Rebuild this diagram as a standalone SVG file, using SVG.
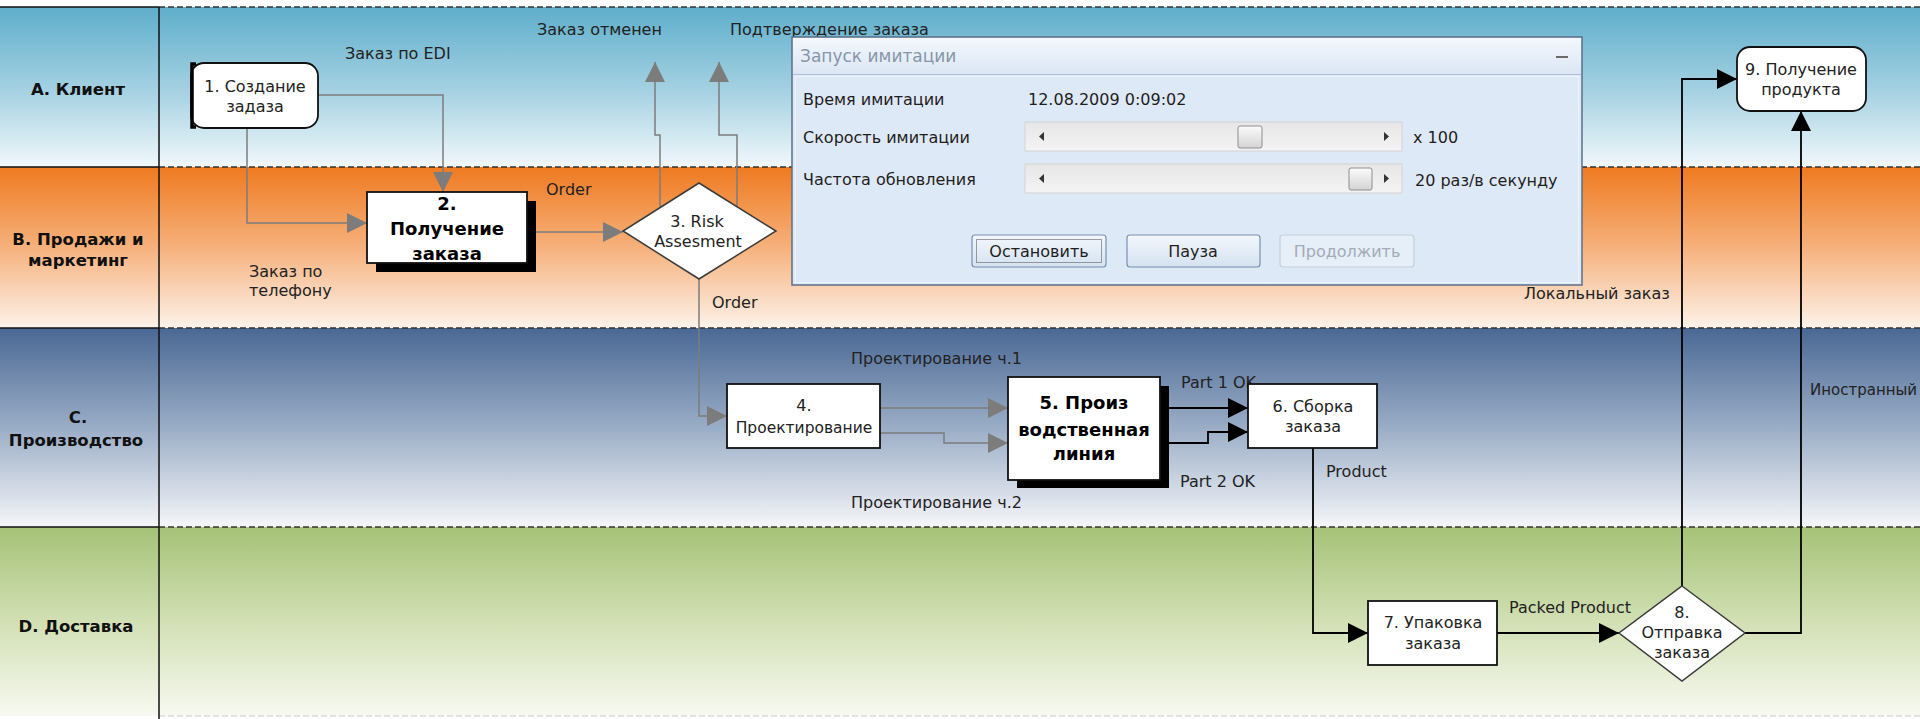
<svg xmlns="http://www.w3.org/2000/svg" width="1920" height="719" viewBox="0 0 1920 719">
  <defs>
    <linearGradient id="laneA" x1="0" y1="0" x2="0" y2="1">
      <stop offset="0" stop-color="#5eaecb"/>
      <stop offset="0.55" stop-color="#a9d3e3"/>
      <stop offset="1" stop-color="#f1f8fb"/>
    </linearGradient>
    <linearGradient id="laneB" x1="0" y1="0" x2="0" y2="1">
      <stop offset="0" stop-color="#ef7a20"/>
      <stop offset="0.5" stop-color="#f6b17c"/>
      <stop offset="1" stop-color="#fdf2ea"/>
    </linearGradient>
    <linearGradient id="laneC" x1="0" y1="0" x2="0" y2="1">
      <stop offset="0" stop-color="#4a6894"/>
      <stop offset="0.5" stop-color="#9aadc6"/>
      <stop offset="1" stop-color="#f5f6f9"/>
    </linearGradient>
    <linearGradient id="laneD" x1="0" y1="0" x2="0" y2="1">
      <stop offset="0" stop-color="#a5c277"/>
      <stop offset="0.5" stop-color="#d2e0b4"/>
      <stop offset="1" stop-color="#f7f9f1"/>
    </linearGradient>
    <linearGradient id="titleGrad" x1="0" y1="0" x2="0" y2="1">
      <stop offset="0" stop-color="#f4f8fd"/>
      <stop offset="1" stop-color="#dbe6f4"/>
    </linearGradient>
    <linearGradient id="trackGrad" x1="0" y1="0" x2="0" y2="1">
      <stop offset="0" stop-color="#e6e6e6"/>
      <stop offset="1" stop-color="#f4f4f4"/>
    </linearGradient>
    <linearGradient id="thumbGrad" x1="0" y1="0" x2="0" y2="1">
      <stop offset="0" stop-color="#fbfbfb"/>
      <stop offset="1" stop-color="#d4d4d4"/>
    </linearGradient>
    <linearGradient id="btnGrad" x1="0" y1="0" x2="0" y2="1">
      <stop offset="0" stop-color="#f3f7fc"/>
      <stop offset="1" stop-color="#d5e2f1"/>
    </linearGradient>
    <marker id="arrGray" viewBox="0 0 20 20" refX="20" refY="10" markerWidth="20" markerHeight="20" markerUnits="userSpaceOnUse" orient="auto">
      <path d="M0,0 L20,10 L0,20 Z" fill="#7c7c7c"/>
    </marker>
    <marker id="arrBlack" viewBox="0 0 20 20" refX="20" refY="10" markerWidth="20" markerHeight="20" markerUnits="userSpaceOnUse" orient="auto">
      <path d="M0,0 L20,10 L0,20 Z" fill="#000"/>
    </marker>
  </defs>
  <style>
    text { font-family: "DejaVu Sans", "Liberation Sans", sans-serif; font-size: 16px; fill: #222; }
    .hdr { font-weight: bold; font-size: 16.5px; text-anchor: middle; fill: #111; }
    .big { font-weight: bold; font-size: 18px; text-anchor: middle; fill: #000; }
    .mid { text-anchor: middle; }
    .solid { stroke: #111; stroke-width: 1.5; fill: none; }
    .dash { stroke: #333; stroke-width: 1.3; stroke-dasharray: 6 3; fill: none; }
    .box { fill: #fff; stroke: #111; stroke-width: 1.8; }
    .shadow { fill: #000; }
    .gray { stroke: #7c7c7c; stroke-width: 1.5; fill: none; marker-end: url(#arrGray); }
    .black { stroke: #000; stroke-width: 1.8; fill: none; marker-end: url(#arrBlack); }
    .dlg { font-size: 16px; fill: #1e1e1e; }
    .btn { fill: url(#btnGrad); stroke: #7990ad; stroke-width: 1.2; }
  </style>

  <rect x="0" y="0" width="1920" height="719" fill="#fff"/>

  <!-- swimlanes -->
  <g id="lanes">
    <rect x="0" y="7" width="1920" height="160" fill="url(#laneA)"/>
    <rect x="0" y="167" width="1920" height="161" fill="url(#laneB)"/>
    <rect x="0" y="328" width="1920" height="199" fill="url(#laneC)"/>
    <rect x="0" y="527" width="1920" height="189" fill="url(#laneD)"/>
    <path class="solid" d="M0,7 H159 M0,167 H159 M0,328 H159 M0,527 H159"/>
    <path class="dash" d="M159,7 H1920 M159,167 H1920 M159,328 H1920 M159,527 H1920"/>
    <path d="M159,716 H1920" stroke="#c9cfc0" stroke-width="1.2" stroke-dasharray="6 3"/>
    <path class="solid" d="M159,7 V719"/>
    <text class="hdr" x="78" y="95">А. Клиент</text>
    <text class="hdr" x="78" y="245">В. Продажи и</text>
    <text class="hdr" x="78" y="266">маркетинг</text>
    <text class="hdr" x="78" y="423">С.</text>
    <text class="hdr" x="76" y="446">Производство</text>
    <text class="hdr" x="76" y="632">D. Доставка</text>
  </g>

  <!-- flow connectors -->
  <g id="connectors">
    <path class="gray" d="M318,95 H443 V192"/>
    <path class="gray" d="M247,128 V223 H367"/>
    <path class="gray" d="M536,232 H623"/>
    <path class="gray" d="M660,207 V135 H655 V62"/>
    <path class="gray" d="M737,207 V135 H719 V62"/>
    <path class="gray" d="M699,279 V416 H727"/>
    <path class="gray" d="M880,408 H1008"/>
    <path class="gray" d="M880,433 H944 V443 H1008"/>
    <path class="black" d="M1169,408 H1248"/>
    <path class="black" d="M1169,443 H1208 V432 H1248"/>
    <path class="black" d="M1313,448 V633 H1368"/>
    <path class="black" d="M1497,633 H1619"/>
    <path class="black" d="M1682,586 V79 H1737"/>
    <path class="black" d="M1745,633 H1801 V111"/>
  </g>

  <!-- connector labels -->
  <g id="labels">
    <text x="345" y="59">Заказ по EDI</text>
    <text x="537" y="35">Заказ отменен</text>
    <text x="730" y="35">Подтверждение заказа</text>
    <text x="546" y="195">Order</text>
    <text x="249" y="277">Заказ по</text>
    <text x="249" y="296">телефону</text>
    <text x="712" y="308">Order</text>
    <text x="1524" y="299">Локальный заказ</text>
    <text x="851" y="364">Проектирование ч.1</text>
    <text x="851" y="508">Проектирование ч.2</text>
    <text x="1181" y="388">Part 1 OK</text>
    <text x="1180" y="487">Part 2 OK</text>
    <text x="1326" y="477">Product</text>
    <text x="1509" y="613">Packed Product</text>
    <text x="1810" y="395" style="font-size:15px">Иностранный</text>
  </g>

  <!-- process nodes -->
  <g id="node1">
    <rect class="box" x="191" y="63" width="127" height="65" rx="13"/>
    <path d="M196,64 H192 V127 H196" stroke="#000" stroke-width="3.5" fill="none"/>
    <text class="mid" x="255" y="92">1. Создание</text>
    <text class="mid" x="255" y="112">задаза</text>
  </g>
  <g id="node2">
    <rect class="shadow" x="376" y="201" width="160" height="71"/>
    <rect class="box" x="367" y="192" width="160" height="71"/>
    <text class="big" x="447" y="210">2.</text>
    <text class="big" x="447" y="235">Получение</text>
    <text class="big" x="447" y="260">заказа</text>
  </g>
  <g id="node3">
    <path d="M699,183 L776,231 L699,279 L623,231 Z" fill="#fff" stroke="#3a3a3a" stroke-width="1.5"/>
    <text class="mid" x="697" y="227">3. Risk</text>
    <text class="mid" x="698" y="247">Assesment</text>
  </g>
  <g id="node4">
    <rect class="box" x="727" y="384" width="153" height="64"/>
    <text class="mid" x="804" y="411">4.</text>
    <text class="mid" x="804" y="433" style="font-size:15.5px">Проектирование</text>
  </g>
  <g id="node5">
    <rect class="shadow" x="1017" y="386" width="152" height="102"/>
    <rect class="box" x="1008" y="377" width="152" height="103"/>
    <text class="big" x="1084" y="409">5. Произ</text>
    <text class="big" x="1084" y="436">водственная</text>
    <text class="big" x="1084" y="460">линия</text>
  </g>
  <g id="node6">
    <rect class="box" x="1248" y="384" width="129" height="64"/>
    <text class="mid" x="1313" y="412">6. Сборка</text>
    <text class="mid" x="1313" y="432">заказа</text>
  </g>
  <g id="node7">
    <rect class="box" x="1368" y="601" width="129" height="64"/>
    <text class="mid" x="1433" y="628">7. Упаковка</text>
    <text class="mid" x="1433" y="649">заказа</text>
  </g>
  <g id="node8">
    <path d="M1682,586 L1745,633 L1682,681 L1619,633 Z" fill="#fff" stroke="#3a3a3a" stroke-width="1.5"/>
    <text class="mid" x="1682" y="618">8.</text>
    <text class="mid" x="1682" y="638">Отправка</text>
    <text class="mid" x="1682" y="658">заказа</text>
  </g>
  <g id="node9">
    <rect class="box" x="1737" y="47" width="129" height="64" rx="13"/>
    <text class="mid" x="1801" y="75">9. Получение</text>
    <text class="mid" x="1801" y="95">продукта</text>
  </g>

  <!-- simulation control window -->
  <g id="sim-dialog">
    <rect x="792" y="37" width="790" height="248" fill="#dee9f7" stroke="#5b6f88" stroke-width="1.5"/>
    <rect x="793" y="38" width="788" height="36" fill="url(#titleGrad)"/>
    <path d="M793,74.5 H1581" stroke="#aebfd6" stroke-width="1"/>
    <rect x="795.5" y="76.5" width="783" height="206" fill="none" stroke="#eef4fb" stroke-width="1"/>
    <text x="800" y="62" style="font-size:17px;fill:#8796a8">Запуск имитации</text>
    <path d="M1556,57 H1568" stroke="#6a6a6a" stroke-width="2"/>

    <text class="dlg" x="803" y="105">Время имитации</text>
    <text class="dlg" x="803" y="143">Скорость имитации</text>
    <text class="dlg" x="803" y="185">Частота обновления</text>
    <text class="dlg" x="1028" y="105">12.08.2009 0:09:02</text>

    <rect x="1025" y="122" width="377" height="29" fill="url(#trackGrad)" stroke="#d3d3d3" stroke-width="1"/>
    <path d="M1039,136.5 L1044,132 V141 Z" fill="#333"/>
    <path d="M1389,136.5 L1384,132 V141 Z" fill="#333"/>
    <rect x="1238" y="126" width="24" height="22" rx="2" fill="url(#thumbGrad)" stroke="#8e8e8e"/>

    <rect x="1025" y="164" width="377" height="29" fill="url(#trackGrad)" stroke="#d3d3d3" stroke-width="1"/>
    <path d="M1039,178.5 L1044,174 V183 Z" fill="#333"/>
    <path d="M1389,178.5 L1384,174 V183 Z" fill="#333"/>
    <rect x="1349" y="168" width="23" height="22" rx="2" fill="url(#thumbGrad)" stroke="#8e8e8e"/>

    <text class="dlg" x="1413" y="143">x 100</text>
    <text class="dlg" x="1415" y="186">20 раз/в секунду</text>

    <rect class="btn" x="972" y="235" width="134" height="32" rx="3"/>
    <rect x="976.5" y="239.5" width="125" height="23" fill="none" stroke="#444" stroke-width="1" stroke-dasharray="1 1"/>
    <text class="dlg mid" x="1039" y="257">Остановить</text>

    <rect class="btn" x="1127" y="235" width="133" height="32" rx="3"/>
    <text class="dlg mid" x="1193" y="257">Пауза</text>

    <rect x="1280" y="235" width="134" height="32" rx="3" fill="#e6eef8" stroke="#c3cfdd" stroke-width="1.2"/>
    <text class="dlg mid" x="1347" y="257" style="fill:#a3abb6">Продолжить</text>
  </g>
</svg>
